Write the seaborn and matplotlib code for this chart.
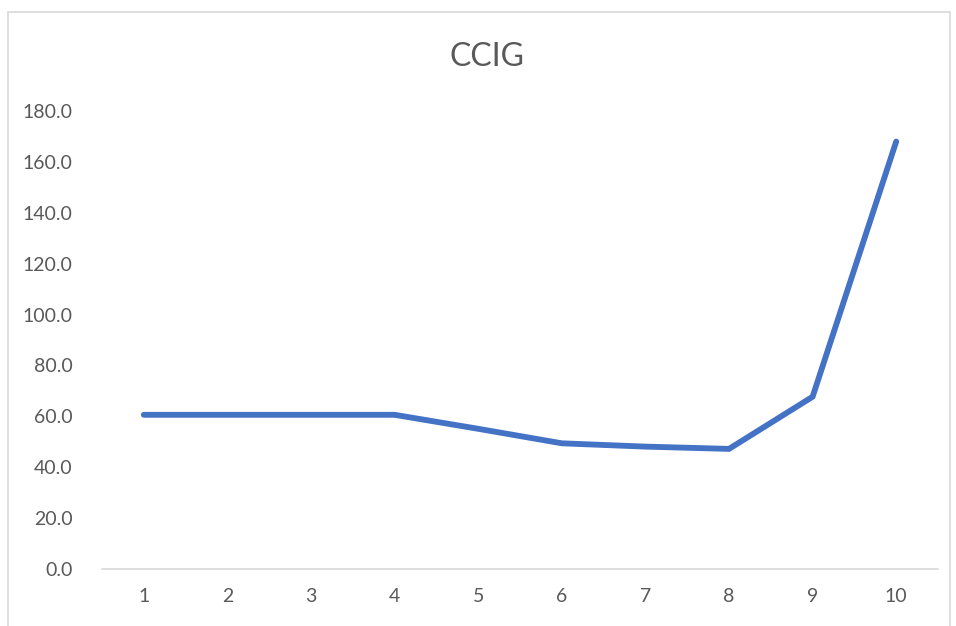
import pandas as pd
import matplotlib.pyplot as plt
import seaborn as sns
from matplotlib.patches import Rectangle

# Datos
periodos = [1, 2, 3, 4, 5, 6, 7, 8, 9, 10]
ccig = [60.6, 60.6, 60.6, 60.6, 55.1, 49.4, 48.1, 47.2, 67.7, 168.0]

df = pd.DataFrame({"Periodo": periodos, "CCIG": ccig})

sns.set_theme(style="white")
plt.rcParams["font.family"] = ["Lato", "DejaVu Sans"]

fig = plt.figure(figsize=(9.56, 6.26), dpi=100)
ax = fig.add_axes([102 / 956, 1 - 569 / 626, 836 / 956, 458 / 626])

sns.lineplot(data=df, x="Periodo", y="CCIG", color="#4472C4", linewidth=4.2,
             solid_capstyle="round", solid_joinstyle="miter", ax=ax)

ax.set_xlim(0.5, 10.5)
ax.set_ylim(0, 180)
ax.set_xticks(periodos)
ax.set_yticks(range(0, 181, 20))
ax.set_yticklabels([f"{v:.1f}" for v in range(0, 181, 20)])
ax.tick_params(axis="both", colors="#595959", labelsize=14, length=0)
ax.tick_params(axis="x", pad=14)
ax.tick_params(axis="y", pad=21)
ax.set_xlabel("")
ax.set_ylabel("")
for lado in ["top", "right", "left"]:
    ax.spines[lado].set_visible(False)
ax.spines["bottom"].set_color("#D9D9D9")
ax.spines["bottom"].set_linewidth(1.2)

fig.text(487 / 956, 1 - 57 / 626, "CCIG", ha="center", va="center",
         fontsize=23, color="#595959")

# Marco del gráfico
fig.patches.append(Rectangle((8 / 956, -0.01), 942 / 956, 1 - 12 / 626 + 0.01,
                             transform=fig.transFigure, fill=False,
                             edgecolor="#D9D9D9", linewidth=1.2))

fig.savefig("out.png", dpi=100)
